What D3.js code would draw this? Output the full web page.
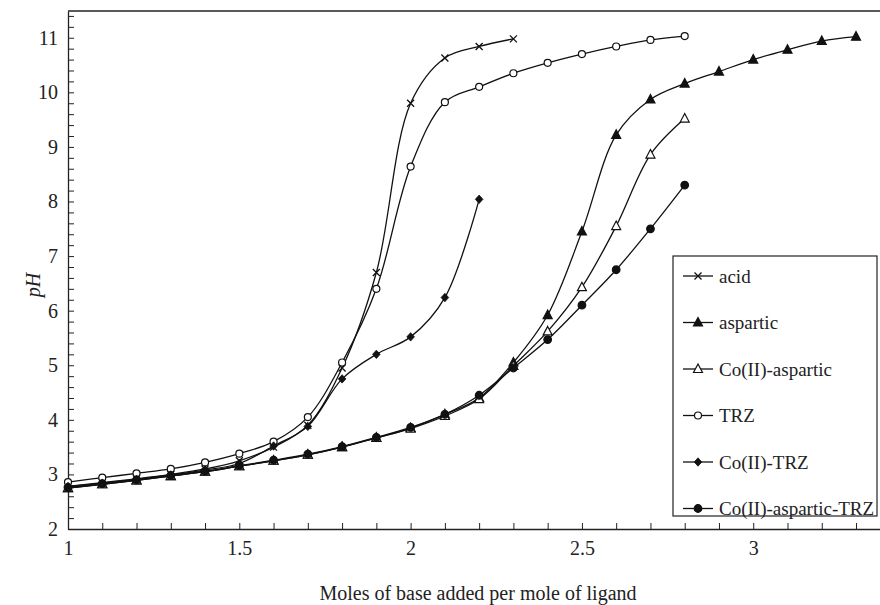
<!DOCTYPE html>
<html>
<head>
<meta charset="utf-8">
<script src="https://cdn.jsdelivr.net/npm/d3@7"></script>
<style>
  body { margin: 0; background: #fff; }
  text { font-family: "Liberation Serif", "DejaVu Serif", serif; fill: #222; }
</style>
</head>
<body>
<div id="canvas"></div>
<script>
// base added per mole of ligand
const xAcid = [1.0, 1.1, 1.2, 1.3, 1.4, 1.5, 1.6, 1.7, 1.8, 1.9, 2.0, 2.1, 2.2, 2.3];
const pHAcid = [2.78, 2.85, 2.92, 3.0, 3.1, 3.25, 3.5, 3.9, 4.95, 6.7, 9.8, 10.63, 10.84, 10.98];

const xAsp = [1.0, 1.1, 1.2, 1.3, 1.4, 1.5, 1.6, 1.7, 1.8, 1.9, 2.0, 2.1, 2.2, 2.3, 2.4, 2.5, 2.6, 2.7, 2.8, 2.9, 3.0, 3.1, 3.2, 3.3];
const pHAsp = [2.75, 2.82, 2.89, 2.97, 3.05, 3.15, 3.25, 3.36, 3.5, 3.67, 3.85, 4.1, 4.4, 5.05, 5.92, 7.45, 9.22, 9.87, 10.16, 10.38, 10.6, 10.78, 10.94, 11.02];

const xCoAsp = [1.0, 1.1, 1.2, 1.3, 1.4, 1.5, 1.6, 1.7, 1.8, 1.9, 2.0, 2.1, 2.2, 2.3, 2.4, 2.5, 2.6, 2.7, 2.8];
const pHCoAsp = [2.75, 2.82, 2.89, 2.97, 3.05, 3.15, 3.25, 3.36, 3.5, 3.67, 3.84, 4.07, 4.38, 4.99, 5.62, 6.43, 7.55, 8.86, 9.52];

const xTRZ = [1.0, 1.1, 1.2, 1.3, 1.4, 1.5, 1.6, 1.7, 1.8, 1.9, 2.0, 2.1, 2.2, 2.3, 2.4, 2.5, 2.6, 2.7, 2.8];
const pHTRZ = [2.86, 2.94, 3.02, 3.1, 3.22, 3.38, 3.6, 4.05, 5.05, 6.4, 8.64, 9.82, 10.1, 10.35, 10.54, 10.7, 10.84, 10.96, 11.03];

const xCoTRZ = [1.0, 1.1, 1.2, 1.3, 1.4, 1.5, 1.6, 1.7, 1.8, 1.9, 2.0, 2.1, 2.2];
const pHCoTRZ = [2.78, 2.84, 2.91, 2.99, 3.08, 3.2, 3.52, 3.88, 4.75, 5.2, 5.52, 6.24, 8.04];

const xCoAspTRZ = [1.0, 1.1, 1.2, 1.3, 1.4, 1.5, 1.6, 1.7, 1.8, 1.9, 2.0, 2.1, 2.2, 2.3, 2.4, 2.5, 2.6, 2.7, 2.8];
const pHCoAspTRZ = [2.76, 2.83, 2.9, 2.98, 3.06, 3.16, 3.26, 3.37, 3.51, 3.68, 3.86, 4.1, 4.45, 4.95, 5.47, 6.1, 6.75, 7.5, 8.3];

const seriesNames = ["acid", "aspartic", "Co(II)-aspartic", "TRZ", "Co(II)-TRZ", "Co(II)-aspartic-TRZ"];
const seriesMarkers = ["cross", "triFilled", "triOpen", "circOpen", "diamond", "circFilled"];
const xMajor = [1, 1.5, 2, 2.5, 3];
const yMajor = [2, 3, 4, 5, 6, 7, 8, 9, 10, 11];

const series = [
  { name: seriesNames[0], marker: seriesMarkers[0], xs: xAcid, ys: pHAcid },
  { name: seriesNames[1], marker: seriesMarkers[1], xs: xAsp, ys: pHAsp },
  { name: seriesNames[2], marker: seriesMarkers[2], xs: xCoAsp, ys: pHCoAsp },
  { name: seriesNames[3], marker: seriesMarkers[3], xs: xTRZ, ys: pHTRZ },
  { name: seriesNames[4], marker: seriesMarkers[4], xs: xCoTRZ, ys: pHCoTRZ },
  { name: seriesNames[5], marker: seriesMarkers[5], xs: xCoAspTRZ, ys: pHCoAspTRZ },
].map((s) => ({ ...s, pts: s.xs.map((x, i) => [x, s.ys[i]]) }));

const width = 880;
const height = 605;
const margin = { top: 11, left: 68, bottom: 76, right: 0 };
const iwidth = width - margin.left - margin.right;
const iheight = height - margin.top - margin.bottom;

const svg = d3.select("#canvas").append("svg")
  .attr("width", width)
  .attr("height", height);

const g = svg.append("g")
  .attr("transform", `translate(${margin.left},${margin.top})`);

const x = d3.scaleLinear().domain([1, 3.37]).range([0, iwidth]);
const y = d3.scaleLinear().domain([2, 11.49]).range([iheight, 0]);

// minor ticks
const xMinor = d3.range(1, 3.36, 0.1);
const yMinor = d3.range(2, 11.45, 0.2);

g.append("g")
  .attr("transform", `translate(0,${iheight})`)
  .call(d3.axisBottom(x).tickValues(xMinor).tickSize(-6).tickFormat(""))
  .call((a) => a.select(".domain").remove());

g.append("g")
  .call(d3.axisLeft(y).tickValues(yMinor).tickSize(-6).tickFormat(""))
  .call((a) => a.select(".domain").remove());

const xAxis = g.append("g")
  .attr("font-family", "Liberation Serif")
  .attr("transform", `translate(0,${iheight})`)
  .call(d3.axisBottom(x).tickValues(xMajor).tickSize(0).tickPadding(12).tickFormat(d3.format("")));
xAxis.select(".domain").attr("stroke-width", 1.3).attr("stroke", "#222");
xAxis.selectAll("text").style("font-size", "20px");

const yAxis = g.append("g")
  .attr("font-family", "Liberation Serif")
  .call(d3.axisLeft(y).tickValues(yMajor).tickSize(0).tickPadding(10).tickFormat(d3.format("")));
yAxis.select(".domain").attr("stroke-width", 1.3).attr("stroke", "#222");
yAxis.selectAll("text").style("font-size", "20px");

g.selectAll(".tick line").attr("stroke", "#222");

// top frame line
g.append("line")
  .attr("x1", 0).attr("x2", iwidth)
  .attr("y1", 0).attr("y2", 0)
  .attr("stroke", "#222").attr("stroke-width", 1.3);

const line = d3.line()
  .x((d) => x(d[0]))
  .y((d) => y(d[1]))
  .curve(d3.curveCatmullRom.alpha(0.5));

g.selectAll(".curve")
  .data(series)
  .enter()
  .append("path")
  .attr("class", "curve")
  .attr("fill", "none")
  .attr("stroke", "#111")
  .attr("stroke-width", 1.3)
  .attr("d", (d) => line(d.pts));

function drawMarker(sel, type) {
  if (type === "cross") {
    sel.append("path").attr("d", "M-3.5,-3.5L3.5,3.5M-3.5,3.5L3.5,-3.5")
      .attr("stroke", "#111").attr("stroke-width", 1.3).attr("fill", "none");
  } else if (type === "triFilled" || type === "triOpen") {
    sel.append("path").attr("d", "M0,-5L4.5,3.5L-4.5,3.5Z")
      .attr("stroke", "#111").attr("stroke-width", 1.2)
      .attr("fill", type === "triFilled" ? "#111" : "#fff");
  } else if (type === "circOpen" || type === "circFilled") {
    sel.append("circle").attr("r", type === "circOpen" ? 3.5 : 3.8)
      .attr("stroke", "#111").attr("stroke-width", 1.2)
      .attr("fill", type === "circFilled" ? "#111" : "#fff");
  } else if (type === "diamond") {
    sel.append("path").attr("d", "M0,-4.2L3.8,0L0,4.2L-3.8,0Z")
      .attr("fill", "#111").attr("stroke", "#111").attr("stroke-width", 0.8);
  }
}

series.forEach((s) => {
  g.selectAll(null)
    .data(s.pts)
    .enter()
    .append("g")
    .attr("transform", (d) => `translate(${x(d[0])},${y(d[1])})`)
    .each(function () { drawMarker(d3.select(this), s.marker); });
});

// legend
const legend = svg.append("g").attr("transform", "translate(673,256)");
legend.append("rect")
  .attr("width", 204).attr("height", 260)
  .attr("fill", "#fff").attr("stroke", "#222").attr("stroke-width", 1.2);

const rows = legend.selectAll(".row")
  .data(series)
  .enter()
  .append("g")
  .attr("class", "row")
  .attr("transform", (d, i) => `translate(0,${20 + i * 46.5})`);

rows.append("line")
  .attr("x1", 10).attr("x2", 40)
  .attr("stroke", "#111").attr("stroke-width", 1.3);
rows.append("g")
  .attr("transform", "translate(25,0)")
  .each(function (d) { drawMarker(d3.select(this), d.marker); });
rows.append("text")
  .attr("x", 46)
  .attr("dy", "0.35em")
  .style("font-size", "19px")
  .text((d) => d.name);

// axis titles
svg.append("text")
  .attr("transform", "translate(40,285) rotate(-90)")
  .attr("text-anchor", "middle")
  .style("font-size", "20px")
  .style("font-style", "italic")
  .text("pH");

svg.append("text")
  .attr("x", 478)
  .attr("y", 600)
  .attr("text-anchor", "middle")
  .style("font-size", "20px")
  .text("Moles of base added per mole of ligand");
</script>
</body>
</html>
